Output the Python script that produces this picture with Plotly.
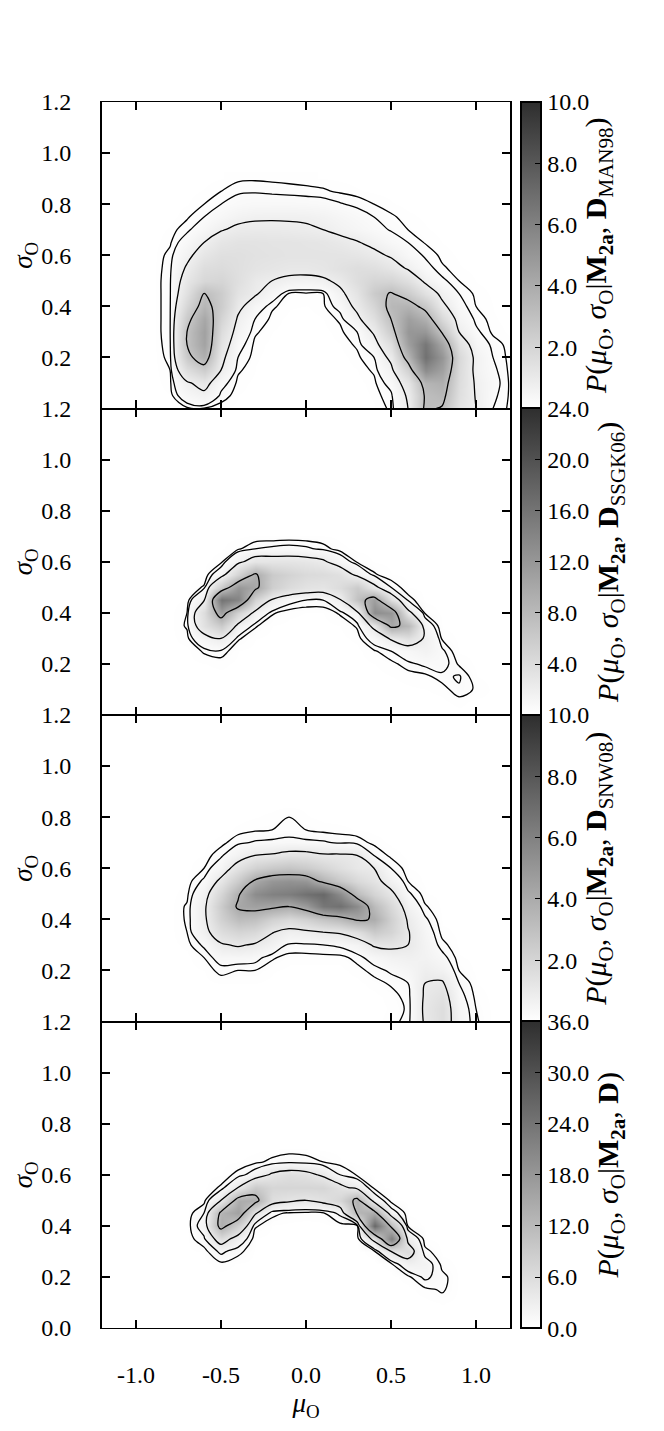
import plotly.graph_objects as go
from plotly.subplots import make_subplots

# binned posterior grid: columns are mu_O, rows are sigma_O
mu_o = [-0.9, -0.8, -0.7, -0.6, -0.5, -0.4, -0.3, -0.2, -0.1, 0.0, 0.1,
        0.2, 0.3, 0.4, 0.5, 0.6, 0.7, 0.8, 0.9, 1.0, 1.1, 1.2]
sigma_o = [0.0, 0.05, 0.1, 0.15, 0.2, 0.25, 0.3, 0.35, 0.4, 0.45,
           0.5, 0.55, 0.6, 0.65, 0.7, 0.75, 0.8, 0.85, 0.9]

p_man98 = [
    [0, 0, 0.05, 0.07, 0.02, 0, 0, 0, 0, 0, 0, 0, 0, 0.02, 0.1, 0.8, 3.2, 2.9, 1.3, 0.8, 0.2, 0.05],
    [0, 0.02, 0.4, 0.6, 0.15, 0.02, 0, 0, 0, 0, 0, 0, 0, 0.03, 0.15, 0.9, 3.1, 3.4, 1.5, 0.75, 0.25, 0.06],
    [0, 0.05, 0.7, 1.1, 0.3, 0.05, 0, 0, 0, 0, 0, 0, 0, 0.05, 0.3, 1.2, 3.5, 3.8, 1.6, 0.7, 0.3, 0.06],
    [0, 0.08, 1.6, 2.4, 0.8, 0.1, 0.02, 0, 0, 0, 0, 0, 0.02, 0.1, 0.6, 2.2, 5.5, 4.5, 1.7, 0.6, 0.25, 0.05],
    [0, 0.12, 2.6, 3.8, 1.0, 0.2, 0.03, 0, 0, 0, 0, 0, 0.05, 0.2, 1.0, 3.6, 6.8, 5.0, 1.8, 0.6, 0.2, 0.04],
    [0, 0.15, 3.0, 4.4, 1.3, 0.3, 0.05, 0, 0, 0, 0, 0.02, 0.1, 0.5, 1.6, 4.6, 6.5, 4.2, 1.4, 0.4, 0.15, 0.03],
    [0, 0.17, 3.0, 4.5, 1.6, 0.5, 0.1, 0.02, 0, 0, 0, 0.05, 0.2, 0.9, 2.4, 5.0, 5.0, 2.9, 0.8, 0.25, 0.05, 0.01],
    [0, 0.17, 2.6, 4.2, 2.0, 0.7, 0.2, 0.05, 0, 0, 0.02, 0.1, 0.6, 1.5, 3.0, 4.6, 3.8, 1.8, 0.5, 0.15, 0.03, 0],
    [0, 0.17, 2.0, 3.5, 2.4, 1.0, 0.4, 0.1, 0.03, 0.02, 0.05, 0.3, 1.0, 2.0, 3.4, 3.6, 2.6, 1.0, 0.3, 0.08, 0.02, 0],
    [0, 0.17, 1.5, 3.1, 2.4, 1.3, 0.9, 0.4, 0.07, 0.06, 0.08, 0.6, 1.3, 2.5, 3.1, 2.4, 1.4, 0.6, 0.2, 0.05, 0.01, 0],
    [0, 0.17, 1.2, 1.9, 2.0, 1.5, 1.0, 0.8, 0.6, 0.55, 0.65, 1.0, 1.6, 2.0, 2.0, 1.5, 0.65, 0.25, 0.08, 0.02, 0, 0],
    [0, 0.15, 0.9, 1.6, 1.7, 1.5, 1.3, 1.2, 1.1, 1.1, 1.2, 1.4, 1.6, 1.5, 1.2, 0.7, 0.3, 0.1, 0.03, 0, 0, 0],
    [0, 0.12, 0.6, 1.2, 1.5, 1.5, 1.4, 1.35, 1.3, 1.3, 1.3, 1.3, 1.2, 1.0, 0.7, 0.35, 0.17, 0.05, 0.01, 0, 0, 0],
    [0, 0.06, 0.35, 0.8, 1.2, 1.35, 1.35, 1.3, 1.3, 1.25, 1.2, 1.05, 0.85, 0.6, 0.35, 0.2, 0.07, 0.02, 0, 0, 0, 0],
    [0, 0.03, 0.15, 0.4, 0.75, 0.95, 1.0, 1.0, 0.95, 0.9, 0.8, 0.6, 0.45, 0.3, 0.18, 0.08, 0.03, 0, 0, 0, 0, 0],
    [0, 0, 0.06, 0.2, 0.4, 0.6, 0.7, 0.72, 0.72, 0.7, 0.6, 0.45, 0.32, 0.2, 0.1, 0.04, 0.01, 0, 0, 0, 0, 0],
    [0, 0, 0.02, 0.08, 0.2, 0.3, 0.35, 0.35, 0.35, 0.33, 0.3, 0.22, 0.15, 0.08, 0.03, 0, 0, 0, 0, 0, 0, 0],
    [0, 0, 0, 0.03, 0.08, 0.17, 0.18, 0.16, 0.14, 0.12, 0.1, 0.06, 0.03, 0.01, 0, 0, 0, 0, 0, 0, 0, 0],
    [0, 0, 0, 0, 0.02, 0.05, 0.06, 0.05, 0.04, 0.03, 0.02, 0.01, 0, 0, 0, 0, 0, 0, 0, 0, 0, 0],
]

p_ssgk06 = [
    [0, 0, 0, 0, 0, 0, 0, 0, 0, 0, 0, 0, 0, 0, 0, 0, 0, 0, 0, 0, 0, 0],
    [0, 0, 0, 0, 0, 0, 0, 0, 0, 0, 0, 0, 0, 0, 0, 0, 0, 0.02, 0.1, 0, 0, 0],
    [0, 0, 0, 0, 0, 0, 0, 0, 0, 0, 0, 0, 0, 0, 0, 0.03, 0.05, 0.1, 0.45, 0.2, 0, 0],
    [0, 0, 0, 0, 0, 0, 0, 0, 0, 0, 0, 0, 0, 0, 0.05, 0.1, 0.15, 0.4, 0.55, 0.05, 0, 0],
    [0, 0, 0, 0.05, 0.1, 0, 0, 0, 0, 0, 0, 0, 0, 0.05, 0.15, 0.4, 0.6, 0.7, 0.2, 0, 0, 0],
    [0, 0, 0, 0.3, 0.4, 0.05, 0, 0, 0, 0, 0, 0, 0, 0.2, 0.5, 0.9, 1.4, 0.6, 0, 0, 0, 0],
    [0, 0, 0.15, 1.2, 2.0, 0.3, 0.05, 0, 0, 0, 0, 0, 0.1, 0.8, 2.2, 3.5, 1.8, 0.2, 0, 0, 0, 0],
    [0, 0, 0.3, 3.5, 6.0, 1.5, 0.3, 0.05, 0, 0, 0, 0.05, 0.3, 2.5, 10.0, 8.0, 1.0, 0, 0, 0, 0, 0],
    [0, 0, 0.25, 4.0, 11.0, 5.0, 1.5, 0.3, 0.1, 0.05, 0.05, 0.3, 1.2, 13.0, 12.0, 2.5, 0.2, 0, 0, 0, 0, 0],
    [0, 0, 0.05, 1.8, 16.0, 14.0, 5.0, 1.8, 0.7, 0.5, 0.5, 1.8, 7.0, 11.0, 3.5, 0.4, 0, 0, 0, 0, 0, 0],
    [0, 0, 0, 0.3, 6.0, 12.0, 10.0, 5.5, 4.0, 3.2, 3.0, 4.0, 6.0, 2.5, 0.5, 0.05, 0, 0, 0, 0, 0, 0],
    [0, 0, 0, 0.02, 1.0, 5.0, 9.5, 6.0, 5.0, 4.2, 4.0, 3.5, 1.5, 0.3, 0.05, 0, 0, 0, 0, 0, 0, 0],
    [0, 0, 0, 0, 0.15, 1.5, 3.0, 3.0, 3.0, 2.8, 2.3, 1.0, 0.2, 0.03, 0, 0, 0, 0, 0, 0, 0, 0],
    [0, 0, 0, 0, 0.02, 0.2, 0.5, 0.6, 0.7, 0.6, 0.4, 0.1, 0, 0, 0, 0, 0, 0, 0, 0, 0, 0],
    [0, 0, 0, 0, 0, 0, 0.05, 0.05, 0.05, 0.05, 0.03, 0, 0, 0, 0, 0, 0, 0, 0, 0, 0, 0],
    [0, 0, 0, 0, 0, 0, 0, 0, 0, 0, 0, 0, 0, 0, 0, 0, 0, 0, 0, 0, 0, 0],
    [0, 0, 0, 0, 0, 0, 0, 0, 0, 0, 0, 0, 0, 0, 0, 0, 0, 0, 0, 0, 0, 0],
    [0, 0, 0, 0, 0, 0, 0, 0, 0, 0, 0, 0, 0, 0, 0, 0, 0, 0, 0, 0, 0, 0],
    [0, 0, 0, 0, 0, 0, 0, 0, 0, 0, 0, 0, 0, 0, 0, 0, 0, 0, 0, 0, 0, 0],
]

p_snw08 = [
    [0, 0, 0, 0, 0, 0, 0, 0, 0, 0, 0, 0, 0, 0, 0.05, 0.15, 1.1, 1.6, 0.5, 0.12, 0, 0],
    [0, 0, 0, 0, 0, 0, 0, 0, 0, 0, 0, 0, 0, 0, 0.03, 0.12, 1.15, 1.6, 0.45, 0.1, 0, 0],
    [0, 0, 0, 0, 0, 0, 0, 0, 0, 0, 0, 0, 0, 0, 0.05, 0.15, 1.1, 1.4, 0.35, 0.06, 0, 0],
    [0, 0, 0, 0, 0.02, 0.02, 0.02, 0, 0, 0, 0, 0, 0, 0.05, 0.12, 0.25, 1.0, 1.1, 0.25, 0.02, 0, 0],
    [0, 0, 0, 0.02, 0.15, 0.1, 0.1, 0.03, 0, 0, 0, 0, 0.05, 0.15, 0.3, 0.45, 0.8, 0.6, 0.1, 0, 0, 0],
    [0, 0, 0, 0.1, 0.4, 0.4, 0.35, 0.12, 0.05, 0.05, 0.05, 0.05, 0.15, 0.4, 0.6, 0.7, 0.6, 0.35, 0.03, 0, 0, 0],
    [0, 0, 0.04, 0.3, 0.9, 1.1, 0.9, 0.6, 0.2, 0.2, 0.25, 0.3, 0.5, 1.1, 1.2, 1.0, 0.55, 0.15, 0, 0, 0, 0],
    [0, 0, 0.1, 0.7, 1.6, 2.0, 1.8, 1.05, 0.7, 0.8, 1.0, 1.1, 1.5, 2.5, 2.0, 1.05, 0.45, 0.05, 0, 0, 0, 0],
    [0, 0, 0.12, 0.8, 2.2, 3.2, 3.0, 2.2, 1.8, 2.2, 2.8, 3.3, 4.2, 3.9, 2.2, 0.9, 0.3, 0, 0, 0, 0, 0],
    [0, 0, 0.12, 0.8, 2.5, 4.2, 4.5, 4.3, 4.0, 4.8, 6.5, 6.8, 5.5, 3.2, 1.8, 0.6, 0.12, 0, 0, 0, 0, 0],
    [0, 0, 0.06, 0.6, 2.0, 3.8, 5.5, 6.0, 6.2, 6.8, 7.2, 5.5, 3.2, 2.0, 1.2, 0.3, 0.03, 0, 0, 0, 0, 0],
    [0, 0, 0.02, 0.3, 1.2, 2.5, 4.2, 5.0, 5.2, 5.0, 3.6, 2.6, 1.8, 1.3, 0.6, 0.1, 0, 0, 0, 0, 0, 0],
    [0, 0, 0, 0.1, 0.5, 1.4, 2.2, 2.6, 2.8, 2.5, 2.0, 1.5, 1.1, 1.0, 0.25, 0.02, 0, 0, 0, 0, 0, 0],
    [0, 0, 0, 0.02, 0.2, 0.6, 1.0, 1.1, 1.3, 1.3, 1.1, 1.1, 1.0, 0.25, 0.06, 0, 0, 0, 0, 0, 0, 0],
    [0, 0, 0, 0, 0.05, 0.2, 0.28, 0.3, 0.35, 0.3, 0.28, 0.22, 0.18, 0.06, 0, 0, 0, 0, 0, 0, 0, 0],
    [0, 0, 0, 0, 0, 0.04, 0.08, 0.1, 0.12, 0.1, 0.06, 0.04, 0.02, 0, 0, 0, 0, 0, 0, 0, 0, 0],
    [0, 0, 0, 0, 0, 0, 0.02, 0.04, 0.1, 0.03, 0, 0, 0, 0, 0, 0, 0, 0, 0, 0, 0, 0],
    [0, 0, 0, 0, 0, 0, 0, 0, 0, 0, 0, 0, 0, 0, 0, 0, 0, 0, 0, 0, 0, 0],
    [0, 0, 0, 0, 0, 0, 0, 0, 0, 0, 0, 0, 0, 0, 0, 0, 0, 0, 0, 0, 0, 0],
]

p_all = [
    [0, 0, 0, 0, 0, 0, 0, 0, 0, 0, 0, 0, 0, 0, 0, 0, 0, 0, 0, 0, 0, 0],
    [0, 0, 0, 0, 0, 0, 0, 0, 0, 0, 0, 0, 0, 0, 0, 0, 0, 0, 0, 0, 0, 0],
    [0, 0, 0, 0, 0, 0, 0, 0, 0, 0, 0, 0, 0, 0, 0, 0, 0, 0.1, 0, 0, 0, 0],
    [0, 0, 0, 0, 0, 0, 0, 0, 0, 0, 0, 0, 0, 0, 0, 0, 0.2, 0.5, 0, 0, 0, 0],
    [0, 0, 0, 0, 0, 0, 0, 0, 0, 0, 0, 0, 0, 0, 0, 0.2, 1.5, 0.6, 0, 0, 0, 0],
    [0, 0, 0, 0, 0.2, 0.05, 0, 0, 0, 0, 0, 0, 0, 0, 0.2, 2.5, 2.0, 0.2, 0, 0, 0, 0],
    [0, 0, 0, 0.1, 1.5, 0.6, 0, 0, 0, 0, 0, 0, 0, 0.2, 4.0, 6.0, 0.6, 0, 0, 0, 0, 0],
    [0, 0, 0, 1.0, 6.0, 2.5, 0.05, 0, 0, 0, 0, 0, 0, 5.0, 22.0, 3.0, 0.05, 0, 0, 0, 0, 0],
    [0, 0, 0, 2.0, 14.0, 8.0, 0.5, 0.05, 0, 0, 0, 0.1, 0.1, 26.0, 11.0, 0.3, 0, 0, 0, 0, 0, 0],
    [0, 0, 0, 1.2, 13.0, 16.0, 4.5, 0.6, 0.3, 0.2, 0.3, 1.5, 12.5, 14.0, 2.0, 0, 0, 0, 0, 0, 0, 0],
    [0, 0, 0, 0.1, 4.0, 14.0, 14.0, 5.5, 4.5, 4.0, 5.0, 7.0, 13.5, 2.5, 0.1, 0, 0, 0, 0, 0, 0, 0],
    [0, 0, 0, 0, 0.5, 4.0, 9.0, 7.0, 7.0, 7.0, 7.0, 5.0, 3.0, 0.2, 0, 0, 0, 0, 0, 0, 0, 0],
    [0, 0, 0, 0, 0.05, 0.6, 2.0, 4.5, 5.5, 5.0, 3.5, 1.2, 0.3, 0, 0, 0, 0, 0, 0, 0, 0, 0],
    [0, 0, 0, 0, 0, 0.05, 0.2, 0.6, 1.0, 0.8, 0.4, 0.1, 0, 0, 0, 0, 0, 0, 0, 0, 0, 0],
    [0, 0, 0, 0, 0, 0, 0, 0.02, 0.05, 0.03, 0, 0, 0, 0, 0, 0, 0, 0, 0, 0, 0, 0],
    [0, 0, 0, 0, 0, 0, 0, 0, 0, 0, 0, 0, 0, 0, 0, 0, 0, 0, 0, 0, 0, 0],
    [0, 0, 0, 0, 0, 0, 0, 0, 0, 0, 0, 0, 0, 0, 0, 0, 0, 0, 0, 0, 0, 0],
    [0, 0, 0, 0, 0, 0, 0, 0, 0, 0, 0, 0, 0, 0, 0, 0, 0, 0, 0, 0, 0, 0],
    [0, 0, 0, 0, 0, 0, 0, 0, 0, 0, 0, 0, 0, 0, 0, 0, 0, 0, 0, 0, 0, 0],
]

# contour levels drawn on each panel
levels_man98 = [0.08, 0.2, 0.8, 3.0]
levels_ssgk06 = [0.25, 0.5, 2.0, 9.0]
levels_snw08 = [0.1, 0.25, 1.0, 4.0]
levels_all = [0.4, 1.2, 4.0, 12.0]

zmax_list = [10, 24, 10, 36]
cbar_ticks_man98 = [2, 4, 6, 8, 10]
cbar_ticks_ssgk06 = [4, 8, 12, 16, 20, 24]
cbar_ticks_snw08 = [2, 4, 6, 8, 10]
cbar_ticks_all = [0, 6, 12, 18, 24, 30, 36]
data_labels = ["<b>D</b><sub>MAN98</sub>", "<b>D</b><sub>SSGK06</sub>",
               "<b>D</b><sub>SNW08</sub>", "<b>D</b>"]

mu_ticks = [-1.0, -0.5, 0.0, 0.5, 1.0]
sigma_ticks_upper = [0.2, 0.4, 0.6, 0.8, 1.0, 1.2]
sigma_ticks_bottom = [0.0, 0.2, 0.4, 0.6, 0.8, 1.0, 1.2]

FONT = "Liberation Serif, DejaVu Serif, serif"
GREYS = [[0, "#ffffff"], [1, "#2e2e2e"]]
TICK_SIZE = 24

panels = [
    (p_man98, levels_man98, cbar_ticks_man98),
    (p_ssgk06, levels_ssgk06, cbar_ticks_ssgk06),
    (p_snw08, levels_snw08, cbar_ticks_snw08),
    (p_all, levels_all, cbar_ticks_all),
]

fig = make_subplots(rows=4, cols=1, shared_xaxes=True, vertical_spacing=0)
cb_centers = [0.875, 0.625, 0.375, 0.125]

for i, (z, levels, cticks) in enumerate(panels):
    row = i + 1
    title = ("<i>P</i>(<i>μ</i><sub>O</sub>, <i>σ</i><sub>O</sub>|"
             "<b>M</b><sub><b>2a</b></sub>, " + data_labels[i] + ")")
    fig.add_trace(go.Heatmap(
        x=mu_o, y=sigma_o, z=z, zmin=0, zmax=zmax_list[i],
        colorscale=GREYS, zsmooth="best", hoverinfo="skip",
        colorbar=dict(
            x=1.027, xanchor="left", y=cb_centers[i], yanchor="middle",
            len=0.25, lenmode="fraction", thickness=20, xpad=0, ypad=0,
            outlinewidth=2, outlinecolor="black",
            ticks="inside", ticklen=7, tickwidth=1.2, tickcolor="black",
            tickvals=cticks, ticktext=[f"{v:.1f}" for v in cticks],
            tickfont=dict(family=FONT, size=TICK_SIZE, color="black"),
            title=dict(text=title, side="right",
                       font=dict(family=FONT, size=30, color="black")),
        ),
    ), row=row, col=1)
    for lev in levels:
        fig.add_trace(go.Contour(
            x=mu_o, y=sigma_o, z=z, autocontour=False,
            contours=dict(start=lev, end=lev, size=1, coloring="none"),
            line=dict(color="black", width=1.3, smoothing=1),
            showscale=False, hoverinfo="skip",
        ), row=row, col=1)

    yt = sigma_ticks_bottom if row == 4 else sigma_ticks_upper
    fig.update_yaxes(
        range=[0, 1.2], tickvals=yt, ticktext=[f"{v:.1f}" for v in yt],
        ticks="inside", ticklen=8, tickwidth=1.5, tickcolor="black",
        showline=True, linewidth=2, linecolor="black", mirror="ticks",
        showgrid=False, zeroline=False, ticklabelstandoff=24,
        automargin=False,
        tickfont=dict(family=FONT, size=TICK_SIZE, color="black"),
        title=dict(text="<i>σ</i><sub>O</sub>", standoff=9,
                   font=dict(family=FONT, size=27, color="black")),
        row=row, col=1,
    )
    # neighbouring panels draw their frame lines side by side, so keep them thin
    fig.update_xaxes(
        range=[-1.2, 1.2], tickvals=mu_ticks,
        ticktext=[f"{v:.1f}" for v in mu_ticks],
        ticks="inside", ticklen=8, tickwidth=1.5, tickcolor="black",
        showline=True, linewidth=1.1, linecolor="black", mirror="ticks",
        showgrid=False, zeroline=False, automargin=False,
        row=row, col=1,
    )

fig.update_xaxes(
    ticklabelstandoff=25,
    tickfont=dict(family=FONT, size=TICK_SIZE, color="black"),
    title=dict(text="<i>μ</i><sub>O</sub>", standoff=0,
               font=dict(family=FONT, size=27, color="black")),
    row=4, col=1,
)

# the page body keeps an 8px margin, so the figure is sized to fit inside it
fig.update_layout(
    width=648, height=1415,
    margin=dict(l=94, r=146, t=94, b=95),
    paper_bgcolor="white", plot_bgcolor="white",
    showlegend=False,
    font=dict(family=FONT, color="black"),
)

fig.write_html("out.html")
